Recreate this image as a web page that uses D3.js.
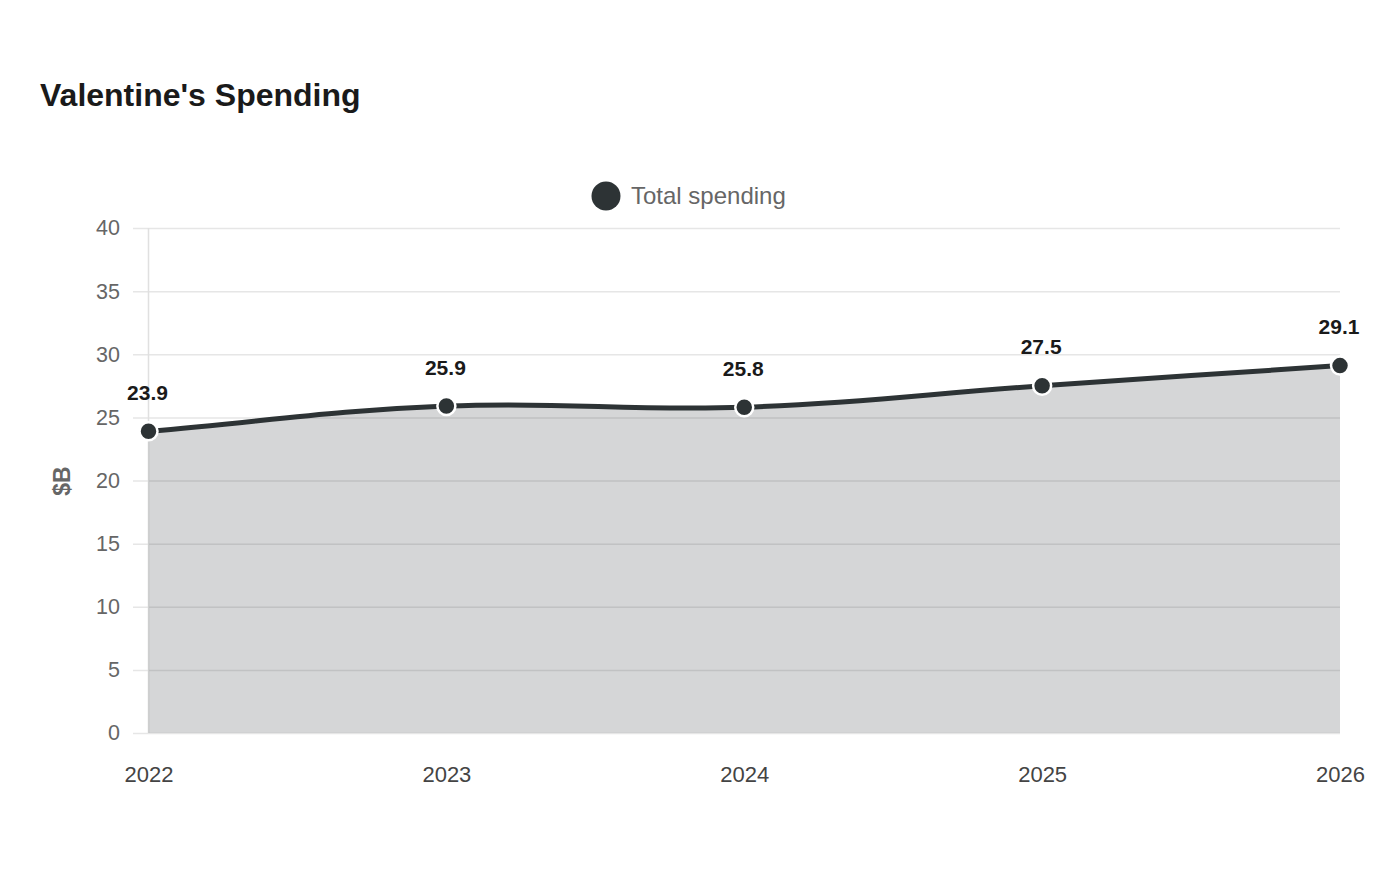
<!DOCTYPE html>
<html><head><meta charset="utf-8">
<script src="https://cdn.jsdelivr.net/npm/d3@7"></script>
<style>body{margin:0;background:#fff;font-family:"Liberation Sans",Arial,sans-serif}</style>
</head><body><svg id="c" width="1400" height="880"></svg>
<script>
const years = ["2022","2023","2024","2025","2026"];
const spending = [23.9, 25.9, 25.8, 27.5, 29.1];
const yTicks = [0,5,10,15,20,25,30,35,40];
const seriesName = "Total spending";
const title = "Valentine's Spending";
const yTitle = "$B";

const svg = d3.select("#c");
const color = "#2d3335";
const x = d3.scalePoint().domain(years).range([148.5, 1340]);
const y = d3.scaleLinear().domain([0,40]).range([733, 228]);

svg.append("text").attr("x",40).attr("y",106).attr("font-size",32).attr("font-weight","bold").attr("fill","#1a1a1a").text(title);

// legend
svg.append("circle").attr("cx",606).attr("cy",196).attr("r",14.5).attr("fill",color);
svg.append("text").attr("x",631).attr("y",204).attr("font-size",24).attr("fill","#666").text(seriesName);

// grid
const g = svg.append("g");
g.selectAll("line.grid").data(yTicks).join("line")
  .attr("x1",133).attr("x2",1340).attr("y1",d=>y(d)+0.5).attr("y2",d=>y(d)+0.5)
  .attr("stroke","#e6e6e6").attr("stroke-width",1.5);
g.append("line").attr("x1",148.5).attr("x2",148.5).attr("y1",228).attr("y2",733).attr("stroke","#e0e0e0").attr("stroke-width",1.5);

// y ticks
const yAxis = d3.axisLeft(y).tickValues(yTicks).tickSize(0).tickPadding(0);
const ya = svg.append("g").attr("transform","translate(120,0)").call(yAxis);
ya.select(".domain").remove();
ya.selectAll("text").attr("font-size",21.5).attr("fill","#666").attr("font-family","Liberation Sans, Arial, sans-serif");

// x ticks
const xAxis = d3.axisBottom(x).tickSize(0).tickPadding(0);
const xa = svg.append("g").attr("transform","translate(0,766)").call(xAxis);
xa.select(".domain").remove();
xa.selectAll("text").attr("font-size",22).attr("fill","#444").attr("dy","0.71em").attr("font-family","Liberation Sans, Arial, sans-serif");

// y title
svg.append("text").attr("transform","translate(70,481) rotate(-90)").attr("text-anchor","middle")
  .attr("font-size",23).attr("font-weight","bold").attr("fill","#666").text(yTitle);

const data = years.map((d,i)=>({k:d,v:spending[i]}));
const pts = data.map(d=>[x(d.k), y(d.v)]);

// Chart.js-style bezier spline (tension 0.4)
function splinePath(p, t){
  const cps = p.map((cur,i)=>{
    const prev = p[i-1] || cur, next = p[i+1] || cur;
    const d01 = Math.hypot(cur[0]-prev[0], cur[1]-prev[1]);
    const d12 = Math.hypot(next[0]-cur[0], next[1]-cur[1]);
    let s01 = d01/(d01+d12), s12 = d12/(d01+d12);
    if (isNaN(s01)) s01 = 0; if (isNaN(s12)) s12 = 0;
    const fa = t*s01, fb = t*s12;
    return {
      prev:[cur[0]-fa*(next[0]-prev[0]), cur[1]-fa*(next[1]-prev[1])],
      next:[cur[0]+fb*(next[0]-prev[0]), cur[1]+fb*(next[1]-prev[1])]
    };
  });
  let s = `M${p[0][0]},${p[0][1]}`;
  for (let i=1;i<p.length;i++){
    const a = cps[i-1].next, b = cps[i].prev;
    s += `C${a[0]},${a[1]} ${b[0]},${b[1]} ${p[i][0]},${p[i][1]}`;
  }
  return s;
}
const linePath = splinePath(pts, 0.4);
svg.append("path").attr("d", linePath + `L${x(years[years.length-1])},${y(0)}L${x(years[0])},${y(0)}Z`).attr("fill","rgba(45,51,53,0.2)");
svg.append("path").attr("d", linePath).attr("fill","none").attr("stroke",color).attr("stroke-width",5);

svg.selectAll("circle.pt").data(data).join("circle").attr("class","pt")
  .attr("cx",d=>x(d.k)).attr("cy",d=>y(d.v)).attr("r",9).attr("fill",color).attr("stroke","#fff").attr("stroke-width",2.5);

svg.selectAll("text.lbl").data(data).join("text").attr("class","lbl")
  .attr("x",d=>x(d.k)-1).attr("y",d=>y(d.v)-31.5).attr("text-anchor","middle")
  .attr("font-size",21).attr("font-weight","bold").attr("fill","#1a1a1a").text(d=>d.v.toFixed(1));
</script></body></html>
